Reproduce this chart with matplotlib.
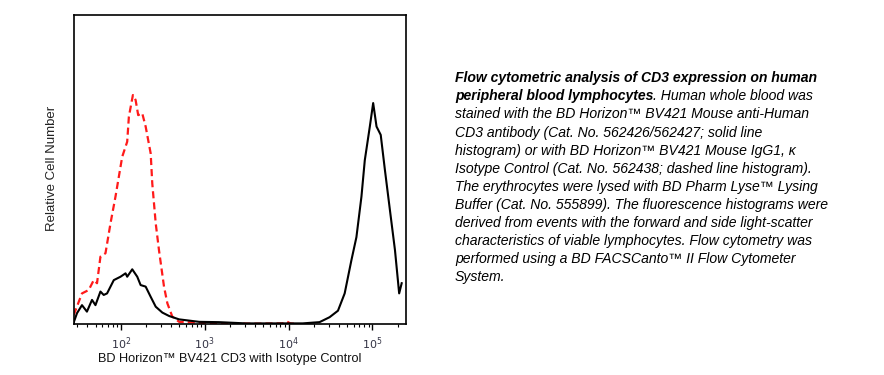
import matplotlib
matplotlib.use("Agg")
import matplotlib.pyplot as plt
from matplotlib.ticker import LogLocator, FixedLocator, NullFormatter

plt.rcParams['font.family'] = ['Liberation Sans', 'DejaVu Sans']

# Isotype control (red dashed) histogram: intensity, relative count
iso_x = [27.4, 34.4, 41.4, 47.5, 52.0, 57.1, 65.6, 75.3, 86.3, 103.8, 119.1, 124.7,
         139.3, 150.0, 161.1, 179.9, 197.7, 227.0, 237.1, 260.6, 285.1, 327.3, 358.9,
         411.1, 495.5, 714.5, 1122, 1995, 3981, 8500, 9550, 10500, 12590]
iso_y = [2.9, 9.9, 11.0, 14.2, 13.2, 21.8, 22.9, 32.6, 41.2, 54.1, 59.0, 67.1,
         74.1, 72.5, 67.6, 68.2, 63.9, 55.2, 45.5, 32.6, 23.9, 12.1, 6.7,
         2.4, 0.7, 0.5, 0.3, 0.2, 0.1, 0.2, 0.8, 0.2, 0.0]

# CD3 stained (black solid) histogram
cd3_x = [27.4, 30.0, 34.4, 39.4, 45.3, 49.8, 57.1, 62.5, 68.5, 82.4, 99.1, 113.8,
         119.1, 136.8, 157.0, 172.2, 197.7, 227.0, 260.6, 312.6, 375.8, 495.5, 859,
         1479, 3090, 14790, 23440, 30900, 38900, 46770, 56230, 64570, 74130, 81280,
         93330, 102300, 112200, 125900, 141300, 162200, 186200, 208900, 223900]
cd3_y = [0.5, 3.5, 6.1, 4.0, 7.8, 6.1, 10.5, 9.4, 9.9, 14.2, 15.3, 16.4,
         15.3, 17.7, 15.3, 12.6, 12.1, 8.8, 5.6, 3.7, 2.6, 1.5, 0.7,
         0.6, 0.2, 0.2, 0.6, 2.2, 4.3, 9.9, 20.6, 28.1, 41.2, 53.0,
         63.9, 71.5, 63.9, 61.2, 49.8, 36.8, 23.9, 9.9, 13.2]

tick_vals = [1e2, 1e3, 1e4, 1e5]
tick_labels = [r'$10^{2}$', r'$10^{3}$', r'$10^{4}$', r'$10^{5}$']

caption_bold_1 = "Flow cytometric analysis of CD3 expression on human"
caption_bold_2 = "peripheral blood lymphocytes"
caption_rest_2 = ". Human whole blood was"
caption_lines = [
    "stained with the BD Horizon\u2122 BV421 Mouse anti-Human",
    "CD3 antibody (Cat. No. 562426/562427; solid line",
    "histogram) or with BD Horizon\u2122 BV421 Mouse IgG1, \u03ba",
    "Isotype Control (Cat. No. 562438; dashed line histogram).",
    "The erythrocytes were lysed with BD Pharm Lyse\u2122 Lysing",
    "Buffer (Cat. No. 555899). The fluorescence histograms were",
    "derived from events with the forward and side light-scatter",
    "characteristics of viable lymphocytes. Flow cytometry was",
    "performed using a BD FACSCanto\u2122 II Flow Cytometer",
    "System.",
]

W, H = 884, 375
fig = plt.figure(figsize=(W / 100, H / 100), dpi=100)
ax = fig.add_axes([73.7 / W, 1 - 324 / H, (405.7 - 73.7) / W, (324 - 15) / H])

ax.plot(iso_x, iso_y, color='#ff1a1a', lw=1.6, ls=(0, (3.2, 1.8)), zorder=2)
ax.plot(cd3_x, cd3_y, color='black', lw=1.5, zorder=3)

ax.set_xscale('log')
ax.set_xlim(27.4, 2.5e5)
ax.set_ylim(0, 100)
ax.xaxis.set_major_locator(FixedLocator(tick_vals))
ax.set_xticklabels(tick_labels)
ax.xaxis.set_minor_locator(LogLocator(base=10, subs=range(2, 10), numticks=20))
ax.xaxis.set_minor_formatter(NullFormatter())
ax.tick_params(axis='x', which='major', length=4, width=1, direction='out',
               labelsize=8, labelcolor='#333344', pad=4)
ax.tick_params(axis='x', which='minor', length=2, width=0.8, direction='out')
ax.set_yticks([])
for s in ax.spines.values():
    s.set_linewidth(1.2)

fig.text(52 / W, 1 - 168 / H, "Relative Cell Number", rotation=90,
         ha='center', va='center', fontsize=9.5, color='#222222')
fig.text(229.6 / W, 1 - 359 / H, "BD Horizon\u2122 BV421 CD3 with Isotype Control",
         ha='center', va='center', fontsize=9.15, color='#111111')

# Caption
fs = 10.1
x0 = 455 / W
centers = [78.3 + 18.1 * i for i in range(12)]
fig.text(x0, 1 - centers[0] / H, caption_bold_1, fontsize=fs, style='italic',
         weight='bold', ha='left', va='center')
t2 = fig.text(x0, 1 - centers[1] / H, caption_bold_2, fontsize=fs, style='italic',
              weight='bold', ha='left', va='center')
r = fig.canvas.get_renderer()
bb = t2.get_window_extent(renderer=r)
fig.text(bb.x1 / W, 1 - centers[1] / H, caption_rest_2, fontsize=fs, style='italic',
         ha='left', va='center')
for i, line in enumerate(caption_lines):
    fig.text(x0, 1 - centers[i + 2] / H, line, fontsize=fs, style='italic',
             ha='left', va='center')

fig.savefig('out.png', dpi=100)
